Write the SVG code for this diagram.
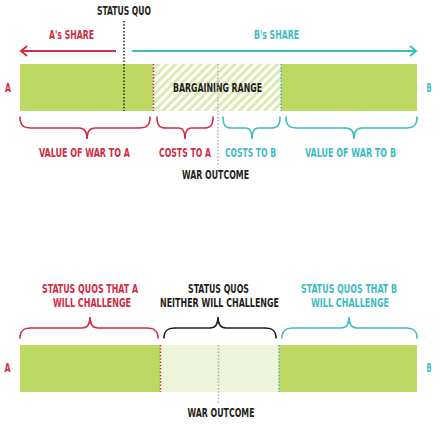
<svg xmlns="http://www.w3.org/2000/svg" width="444" height="425" viewBox="0 0 444 425">
<defs>
<style>
text{font-family:"DejaVu Sans Condensed","DejaVu Sans","Liberation Sans",sans-serif;font-stretch:condensed;font-weight:bold;font-size:12.5px;text-anchor:middle}
.red{fill:#d12d43}.teal{fill:#3fbcc1}.dark{fill:#231f20}
.brace{fill:none;stroke-width:1.6;stroke-linecap:round}
.dot{stroke-width:1.5;stroke-dasharray:1.5 1.8;fill:none}
.arrow{fill:none;stroke-width:2}
</style>
<pattern id="hatch" patternUnits="userSpaceOnUse" width="6" height="6" patternTransform="rotate(45)">
<rect width="6" height="6" fill="#ffffff"/>
<rect width="3" height="6" fill="#dde9b0"/>
</pattern>
<marker id="headRed" markerWidth="10" markerHeight="12" refX="8" refY="6" orient="auto" markerUnits="userSpaceOnUse">
<path d="M2,1 L8,6 L2,11" fill="none" stroke="#d12d43" stroke-width="2"/>
</marker>
<marker id="headTeal" markerWidth="10" markerHeight="12" refX="8" refY="6" orient="auto" markerUnits="userSpaceOnUse">
<path d="M2,1 L8,6 L2,11" fill="none" stroke="#3fbcc1" stroke-width="2"/>
</marker>
</defs>
<rect width="444" height="425" fill="#ffffff"/>

<g id="top-bar">
<rect x="20" y="64" width="133" height="47" fill="#bed864"/>
<rect x="153" y="64" width="128" height="47" fill="url(#hatch)"/>
<rect x="281" y="64" width="136" height="47" fill="#bed864"/>
<text x="217.5" y="92" class="dark" textLength="89" lengthAdjust="spacingAndGlyphs">BARGAINING RANGE</text>
</g>
<g id="top-labels">
<text x="124" y="15" class="dark" textLength="54" lengthAdjust="spacingAndGlyphs">STATUS QUO</text>
<text x="71.5" y="39" class="red" textLength="45" lengthAdjust="spacingAndGlyphs">A's SHARE</text>
<text x="276.5" y="39" class="teal" textLength="45" lengthAdjust="spacingAndGlyphs">B's SHARE</text>
<text x="8" y="92" class="red" textLength="6" lengthAdjust="spacingAndGlyphs">A</text>
<text x="429" y="92" class="teal" textLength="5" lengthAdjust="spacingAndGlyphs">B</text>
<text x="84.5" y="157" class="red" textLength="91" lengthAdjust="spacingAndGlyphs">VALUE OF WAR TO A</text>
<text x="185" y="157" class="red" textLength="52" lengthAdjust="spacingAndGlyphs">COSTS TO A</text>
<text x="250.5" y="157" class="teal" textLength="51" lengthAdjust="spacingAndGlyphs">COSTS TO B</text>
<text x="350.5" y="157" class="teal" textLength="91" lengthAdjust="spacingAndGlyphs">VALUE OF WAR TO B</text>
<text x="215.5" y="179" class="dark" textLength="67" lengthAdjust="spacingAndGlyphs">WAR OUTCOME</text>
</g>

<g id="bottom-bar">
<rect x="20" y="345" width="140" height="47" fill="#bed864"/>
<rect x="160" y="345" width="119" height="47" fill="#eef4d9"/>
<rect x="279" y="345" width="138" height="47" fill="#bed864"/>
</g>
<g id="bottom-labels">
<text x="90" y="293" class="red" textLength="96" lengthAdjust="spacingAndGlyphs">STATUS QUOS THAT A</text>
<text x="92" y="307" class="red" textLength="78" lengthAdjust="spacingAndGlyphs">WILL CHALLENGE</text>
<text x="218.5" y="293" class="dark" textLength="61" lengthAdjust="spacingAndGlyphs">STATUS QUOS</text>
<text x="219.5" y="307" class="dark" textLength="119" lengthAdjust="spacingAndGlyphs">NEITHER WILL CHALLENGE</text>
<text x="349" y="293" class="teal" textLength="96" lengthAdjust="spacingAndGlyphs">STATUS QUOS THAT B</text>
<text x="350" y="307" class="teal" textLength="78" lengthAdjust="spacingAndGlyphs">WILL CHALLENGE</text>
<text x="7.5" y="372" class="red" textLength="6" lengthAdjust="spacingAndGlyphs">A</text>
<text x="429" y="372" class="teal" textLength="5" lengthAdjust="spacingAndGlyphs">B</text>
<text x="221" y="417" class="dark" textLength="67" lengthAdjust="spacingAndGlyphs">WAR OUTCOME</text>
</g>

<g id="connectors">
<line x1="116" y1="51" x2="21" y2="51" class="arrow" stroke="#d12d43" marker-end="url(#headRed)"/>
<line x1="132" y1="51" x2="416" y2="51" class="arrow" stroke="#3fbcc1" marker-end="url(#headTeal)"/>
<line x1="124" y1="21" x2="124" y2="111" class="dot" stroke="#231f20"/>
<line x1="153.5" y1="64" x2="153.5" y2="111" class="dot" stroke="#d12d43"/>
<line x1="281" y1="64" x2="281" y2="111" class="dot" stroke="#3fbcc1"/>
<line x1="218" y1="64" x2="218" y2="166" class="dot" stroke="#b0b0b0"/>
<line x1="160.5" y1="345" x2="160.5" y2="392" class="dot" stroke="#d12d43"/>
<line x1="279" y1="345" x2="279" y2="392" class="dot" stroke="#3fbcc1"/>
<line x1="218.5" y1="345" x2="218.5" y2="404" class="dot" stroke="#b0b0b0"/>

<path class="brace" stroke="#d12d43" d="M20,117 C20,125 23,128 31,128 L79,128 C84,128 87,131 87,139 C87,131 90,128 95,128 L139,128 C147,128 150,125 150,117"/>
<path class="brace" stroke="#d12d43" d="M157,117 C157,125 159,128 166,128 L179,128 C183,128 185,131 185,139 C185,131 187,128 191,128 L204,128 C211,128 213,125 213,117"/>
<path class="brace" stroke="#3fbcc1" d="M223,117 C223,125 225,128 232,128 L246,128 C250,128 252,131 252,139 C252,131 254,128 258,128 L271,128 C278,128 280,125 280,117"/>
<path class="brace" stroke="#3fbcc1" d="M286,117 C286,125 289,128 297,128 L346,128 C351,128 354,131 354,139 C354,131 357,128 362,128 L406,128 C414,128 417,125 417,117"/>

<path class="brace" stroke="#d12d43" d="M20,338 C20,331 23,328 31,328 L82,328 C87,328 90,325 90,317 C90,325 93,328 98,328 L147,328 C155,328 158,331 158,338"/>
<path class="brace" stroke="#231f20" d="M164,338 C164,331 167,328 175,328 L210,328 C215,328 218,325 218,317 C218,325 221,328 226,328 L265,328 C273,328 276,331 276,338"/>
<path class="brace" stroke="#3fbcc1" d="M282,338 C282,331 285,328 293,328 L341,328 C346,328 349,325 349,317 C349,325 352,328 357,328 L406,328 C414,328 417,331 417,338"/>
</g>
</svg>
